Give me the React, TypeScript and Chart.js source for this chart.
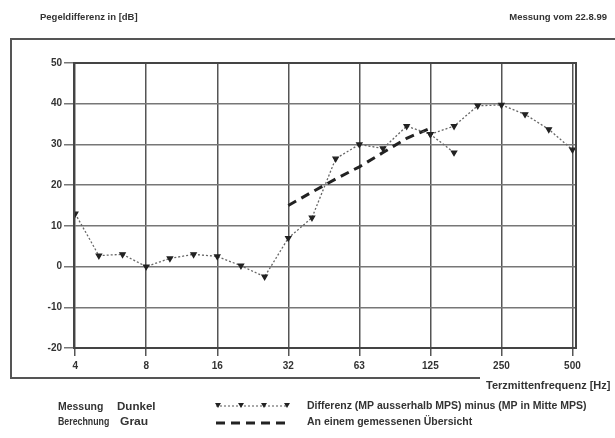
import React, { useEffect, useRef } from "react";
import { Chart, registerables } from "chart.js";

Chart.register(...registerables);

// third-octave band index (0 = 4, 3 = 8, ... 21 = 500)
const tickIndex = [0, 3, 6, 9, 12, 15, 18, 21];
const tickLabels = ["4", "8", "16", "32", "63", "125", "250", "500"];

const measuredX = [0, 1, 2, 3, 4, 5, 6, 7, 8, 9, 10, 11, 12, 13, 14, 15, 16];
const measuredY = [13, 2.7, 3, 0, 2, 3, 2.5, 0.2, -2.5, 7, 12, 26.5, 30, 29, 34.5, 32.5, 28];

const measured2X = [15, 16, 17, 18, 19, 20, 21];
const measured2Y = [32.5, 34.5, 39.5, 39.7, 37.4, 33.7, 28.7];

const calcX = [9, 10, 11, 12, 13, 14, 15];
const calcY = [15, 18.3, 21.5, 24.5, 28, 31.5, 34];

const FONT = "'Liberation Sans', Arial, sans-serif";

const toXY = (xs: number[], ys: number[]) => xs.map((x, i) => ({ x, y: ys[i] }));

function narrowText(
  ctx: CanvasRenderingContext2D,
  text: string,
  x: number,
  y: number,
  size: number,
  sx: number
) {
  ctx.save();
  ctx.font = `bold ${size}px ${FONT}`;
  ctx.textAlign = "left";
  ctx.textBaseline = "middle";
  ctx.translate(x, y);
  ctx.scale(sx, 1);
  ctx.fillText(text, 0, 0);
  ctx.restore();
}

const decor = {
  id: "decor",
  afterDraw(chart: any) {
    const ctx = chart.ctx as CanvasRenderingContext2D;
    const a = chart.chartArea;
    ctx.save();
    // plot frame
    ctx.strokeStyle = "#444";
    ctx.lineWidth = 2;
    ctx.strokeRect(a.left, a.top, a.right - a.left, a.bottom - a.top);
    // outer frame
    ctx.strokeStyle = "#555";
    ctx.lineWidth = 2;
    ctx.beginPath();
    ctx.moveTo(615, 39);
    ctx.lineTo(11, 39);
    ctx.lineTo(11, 378);
    ctx.lineTo(480, 378);
    ctx.stroke();
    // header texts
    ctx.fillStyle = "#333";
    ctx.font = `bold 9.5px ${FONT}`;
    ctx.textBaseline = "middle";
    ctx.textAlign = "left";
    ctx.fillText("Pegeldifferenz in [dB]", 40, 17);
    ctx.textAlign = "right";
    ctx.fillText("Messung vom 22.8.99", 607, 17);
    ctx.textAlign = "left";
    ctx.font = `bold 11px ${FONT}`;
    ctx.fillText("Terzmittenfrequenz [Hz]", 486, 386);
    // legend
    narrowText(ctx, "Messung", 58, 407, 11, 0.95);
    narrowText(ctx, "Dunkel", 117, 407, 11, 1.05);
    narrowText(ctx, "Berechnung", 58, 422, 11, 0.8);
    narrowText(ctx, "Grau", 120, 422, 11, 1.1);
    ctx.font = `bold 10.5px ${FONT}`;
    ctx.fillText("Differenz (MP ausserhalb MPS) minus (MP in Mitte MPS)", 307, 406);
    ctx.fillText("An einem gemessenen Übersicht", 307, 422);
    // legend samples
    ctx.strokeStyle = "#555";
    ctx.lineWidth = 1.2;
    ctx.setLineDash([2, 2]);
    ctx.beginPath();
    ctx.moveTo(216, 406);
    ctx.lineTo(288, 406);
    ctx.stroke();
    ctx.setLineDash([]);
    ctx.fillStyle = "#222";
    [218, 241, 264, 287].forEach((x) => {
      ctx.beginPath();
      ctx.moveTo(x - 3, 403);
      ctx.lineTo(x + 3, 403);
      ctx.lineTo(x, 408);
      ctx.closePath();
      ctx.fill();
    });
    ctx.strokeStyle = "#222";
    ctx.lineWidth = 3;
    ctx.setLineDash([9, 6]);
    ctx.beginPath();
    ctx.moveTo(216, 423);
    ctx.lineTo(290, 423);
    ctx.stroke();
    ctx.restore();
  },
};

export default function App() {
  const ref = useRef<HTMLCanvasElement>(null);
  useEffect(() => {
    document.body.style.margin = "0";
    const pointStyle = {
      pointStyle: "triangle" as const,
      pointRotation: 180,
      pointRadius: 3,
      pointBackgroundColor: "#222",
      pointBorderColor: "#222",
    };
    const chart = new Chart(ref.current!, {
      type: "line",
      data: {
        datasets: [
          {
            label: "Messung",
            data: toXY(measuredX, measuredY),
            borderColor: "#666",
            borderWidth: 1.3,
            borderDash: [2, 2],
            ...pointStyle,
          },
          {
            label: "Messung 2",
            data: toXY(measured2X, measured2Y),
            borderColor: "#666",
            borderWidth: 1.3,
            borderDash: [2, 2],
            ...pointStyle,
          },
          {
            label: "Berechnung",
            data: toXY(calcX, calcY),
            borderColor: "#222",
            borderWidth: 3,
            borderDash: [9, 6],
            pointRadius: 0,
          },
        ],
      },
      options: {
        responsive: false,
        animation: false,
        devicePixelRatio: 1,
        layout: { padding: { top: 63, right: 39, left: 0, bottom: 0 } },
        plugins: { legend: { display: false }, tooltip: { enabled: false } },
        scales: {
          x: {
            type: "linear",
            min: -0.05,
            max: 21.15,
            afterBuildTicks: (s: any) => {
              s.ticks = tickIndex.map((v) => ({ value: v }));
            },
            afterFit: (s: any) => {
              s.height = 90;
            },
            ticks: {
              autoSkip: false,
              maxRotation: 0,
              padding: 4,
              color: "#333",
              font: { family: FONT, size: 10, weight: "bold" },
              callback: (v: any) => {
                const i = tickIndex.indexOf(Number(v));
                return i >= 0 ? tickLabels[i] : "";
              },
            },
            grid: { color: "#555", lineWidth: 1.5, tickLength: 8 },
            border: { display: false },
          },
          y: {
            min: -20,
            max: 50,
            afterFit: (s: any) => {
              s.width = 74;
            },
            ticks: {
              stepSize: 10,
              padding: 2,
              color: "#333",
              font: { family: FONT, size: 10, weight: "bold" },
            },
            grid: { color: "#777", lineWidth: 1.5, tickLength: 10 },
            border: { display: false },
          },
        },
      },
      plugins: [decor],
    });
    return () => chart.destroy();
  }, []);
  return <canvas ref={ref} width={615} height={438} style={{ display: "block" }} />;
}
